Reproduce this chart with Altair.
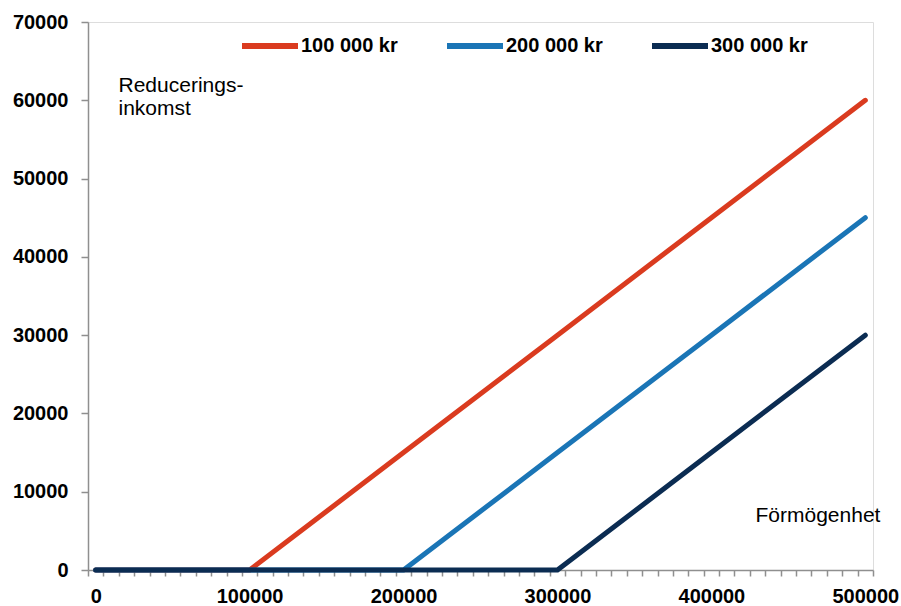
import altair as alt
import pandas as pd

# Wealth (kr) on the x axis, reduction income on the y axis
formogenhet = [0, 100000, 200000, 300000, 400000, 500000]
serie_namn = ["100 000 kr", "200 000 kr", "300 000 kr"]
serie_100k = [0, 0, 15000, 30000, 45000, 60000]
serie_200k = [0, 0, 0, 15000, 30000, 45000]
serie_300k = [0, 0, 0, 0, 15000, 30000]
farger = ["#DA3B1F", "#1A75B6", "#0B2C52"]

rows = []
for namn, vals in zip(serie_namn, [serie_100k, serie_200k, serie_300k]):
    for x, y in zip(formogenhet, vals):
        rows.append({"Förmögenhet": x, "Reduceringsinkomst": y, "Gräns": namn})
df = pd.DataFrame(rows)

FONT = "Liberation Sans"
AXIS_GREY = "#8f8f8f"

# tick marks sit halfway between the 10 000 kr categories
tick_values = [v - 5000 for v in range(0, 510001, 10000)]
label_values = list(range(0, 500001, 100000))

x_axis = alt.Axis(
    values=sorted(set(tick_values + label_values)),
    labelExpr="datum.value % 100000 == 0 ? format(datum.value, 'd') : ''",
    labelOverlap=False,
    tickOpacity={"condition": {"test": "(datum.value + 5000) % 10000 == 0", "value": 1}, "value": 0},
    labelFont=FONT, labelFontSize=20, labelFontWeight="bold", labelColor="#000000",
    labelPadding=10,
    tickSize=6, tickColor=AXIS_GREY, tickWidth=1.5,
    domainColor=AXIS_GREY, domainWidth=1.5,
    grid=False,
    title="Förmögenhet", titleFont=FONT, titleFontSize=21, titleFontWeight="normal",
    titleColor="#000000", titleX=667, titleY=-49, titleAlign="left",
    titleBaseline="alphabetic", titleAnchor="start",
)

y_axis = alt.Axis(
    values=list(range(0, 70001, 10000)),
    format="d",
    labelFont=FONT, labelFontSize=20, labelFontWeight="bold", labelColor="#000000",
    labelPadding=13,
    tickSize=7, tickColor=AXIS_GREY, tickWidth=1.5,
    domainColor=AXIS_GREY, domainWidth=1.5,
    grid=False,
    title=["Reducerings-", "inkomst"], titleFont=FONT, titleFontSize=21,
    titleFontWeight="normal", titleColor="#000000", titleAngle=0,
    titleX=30, titleY=69, titleAlign="left", titleBaseline="alphabetic",
    titleAnchor="start", titleLineHeight=23,
)

chart = alt.Chart(df).mark_line(strokeWidth=5, strokeCap="round", strokeJoin="round").encode(
    x=alt.X("Förmögenhet:Q", scale=alt.Scale(domain=[-5000, 505000], nice=False, zero=False), axis=x_axis),
    y=alt.Y("Reduceringsinkomst:Q", scale=alt.Scale(domain=[0, 70000], nice=False), axis=y_axis),
    color=alt.Color(
        "Gräns:N",
        scale=alt.Scale(domain=serie_namn, range=farger),
        sort=serie_namn,
        legend=alt.Legend(
            title=None, orient="none", direction="horizontal",
            legendX=151, legendY=-7,
            symbolType="stroke", symbolSize=3136, symbolStrokeWidth=6,
            labelFont=FONT, labelFontSize=20, labelFontWeight="bold", labelColor="#000000",
            labelOffset=0, columnPadding=37, padding=0,
        ),
    ),
    order=alt.Order("Gräns:N"),
).properties(
    width=785, height=548,
    padding={"left": 88, "top": 22, "right": 28, "bottom": 36},
    autosize="none",
).configure_view(stroke=None).configure(background="#ffffff")

chart.save("out.html", embed_options={"renderer": "svg", "actions": False})
